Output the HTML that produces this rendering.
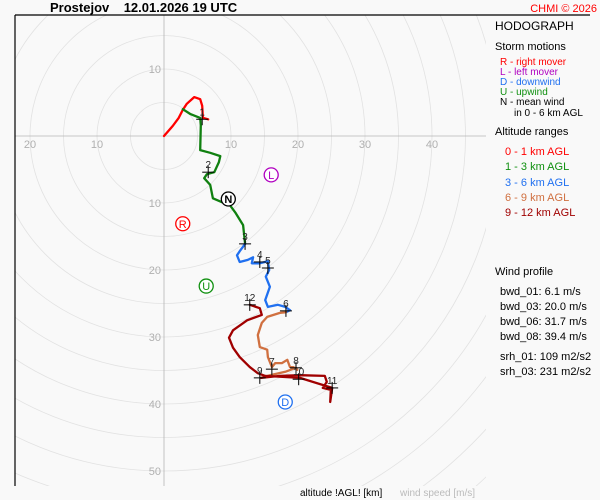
<!DOCTYPE html>
<html><head><meta charset="utf-8"><style>
html,body{margin:0;padding:0;background:#f9f9f9;width:600px;height:500px;overflow:hidden;}
svg{display:block;font-family:"Liberation Sans",sans-serif;}
</style></head><body>
<svg id="c" width="600" height="500" viewBox="0 0 600 500">
<rect x="0" y="0" width="600" height="500" fill="#f9f9f9"/>
<text x="50" y="12" font-size="13" font-weight="bold" fill="#000" xml:space="preserve">Prostejov    12.01.2026 19 UTC</text>
<text x="597" y="12" font-size="11" fill="#ff0000" text-anchor="end">CHMI © 2026</text>
<defs><clipPath id="clip"><rect x="15" y="15" width="471" height="471"/></clipPath></defs>
<g id="grid" clip-path="url(#clip)"></g>
<line x1="15" y1="15" x2="15" y2="486" stroke="#000" stroke-width="1.2"/>
<line x1="15" y1="15" x2="590" y2="15" stroke="#000" stroke-width="1.2"/>
<g id="ticks"></g>
<g id="series" clip-path="url(#clip)"></g>
<g id="marks"></g>
<g id="storms"></g>
<g font-size="11">
<text x="495" y="30" font-size="12" fill="#000">HODOGRAPH</text>
<text x="495" y="50" fill="#000">Storm motions</text>
<g font-size="10">
<text x="500" y="65" fill="#ff0000">R - right mover</text>
<text x="500" y="75" fill="#b000c0">L - left mover</text>
<text x="500" y="85" fill="#2070f0">D - downwind</text>
<text x="500" y="95" fill="#109010">U - upwind</text>
<text x="500" y="105" fill="#000">N - mean wind</text>
<text x="514" y="116" fill="#000">in 0 - 6 km AGL</text>
</g>
<text x="495" y="135" fill="#000">Altitude ranges</text>
<text x="505" y="155" fill="#ff0000">0 - 1 km AGL</text>
<text x="505" y="170" fill="#109010">1 - 3 km AGL</text>
<text x="505" y="186" fill="#2070f0">3 - 6 km AGL</text>
<text x="505" y="201" fill="#d07040">6 - 9 km AGL</text>
<text x="505" y="216" fill="#a00000">9 - 12 km AGL</text>
<text x="495" y="275" fill="#000">Wind profile</text>
<text x="500" y="295" fill="#000">bwd_01: 6.1 m/s</text>
<text x="500" y="310" fill="#000">bwd_03: 20.0 m/s</text>
<text x="500" y="325" fill="#000">bwd_06: 31.7 m/s</text>
<text x="500" y="340" fill="#000">bwd_08: 39.4 m/s</text>
<text x="500" y="360" fill="#000">srh_01: 109 m2/s2</text>
<text x="500" y="375" fill="#000">srh_03: 231 m2/s2</text>
</g>
<text x="300" y="496" font-size="10" fill="#000">altitude !AGL! [km]</text>
<text x="400" y="496" font-size="10" fill="#bbb">wind speed [m/s]</text>
</svg>
<script>
const seg01U=[0,1.3,2.2,2.8,3.4,4.5,5.4,5.7,5.8,6.6];
const seg01V=[0,1.5,2.7,3.9,4.8,5.8,5.5,4.5,2.7,2.5];
const seg13U=[2.8,3.9,5.4,5.5,5.4,6.9,8.4,8.2,7.5,6.4,6.0,6.9,7.3,8.7,9.6,10.7,11.8,12.1];
const seg13V=[4.0,3.3,2.7,1.6,-2.1,-2.5,-3.0,-3.9,-5.4,-5.7,-6.3,-7.3,-9.3,-9.9,-10.0,-11.5,-13.3,-16.1];
const seg36U=[12.1,11.3,10.9,11.3,12.5,13.3,13.1,14.3,15.5,15.7,15.2,15.8,15.1,15.5,17.0,18.1,18.8,18.2];
const seg36V=[-16.1,-17.2,-17.8,-18.8,-18.5,-18.1,-19.0,-19.0,-18.7,-20.0,-21.0,-22.5,-24.5,-25.5,-25.2,-25.5,-26.0,-26.3];
const seg69U=[18.2,17.3,15.4,14.6,14.0,14.3,15.4,15.5,16.1,16.6,17.6,18.4,18.8,19.3,19.9,19.7,18.1,15.8,14.5];
const seg69V=[-26.3,-26.4,-27.0,-27.9,-29.7,-31.5,-31.9,-33.0,-34.5,-33.9,-33.9,-33.4,-34.5,-34.5,-34.9,-34.6,-35.2,-35.7,-36.1];
const seg912U=[14.5,17.3,20.3,24.0,24.3,23.7,24.9,24.8,25.1,20.3,15.1,14.0,12.8,11.3,10.3,9.7,10.3,12.4,14.6,14.3,12.8];
const seg912V=[-36.1,-35.8,-35.7,-35.8,-36.7,-37.6,-37.9,-39.7,-37.6,-36.1,-35.8,-35.4,-34.5,-33.0,-31.6,-30.1,-29.0,-27.5,-26.7,-25.7,-25.2];
const markerLabels=["1","2","3","4","5","6","7","8","9","10","11","12"];
const markerU=[5.7,6.6,12.1,14.3,15.5,18.2,16.1,19.7,14.3,20.1,25.1,12.8];
const markerV=[2.5,-5.4,-16.1,-18.8,-19.7,-26.1,-34.8,-34.6,-36.1,-36.3,-37.6,-25.2];
const stormLabels=["R","L","D","U","N"];
const stormU=[2.8,16.0,18.1,6.3,9.6];
const stormV=[-13.1,-5.8,-39.7,-22.4,-9.4];
const tickValuesX=[-20,-10,10,20,30,40];
const tickValuesY=[10,-10,-20,-30,-40,-50];

const NS="http://www.w3.org/2000/svg";
const CX=164,CY=136,K=6.7;
function sx(u){return CX+u*K;}
function sy(v){return CY-v*K;}
function mk(tag,attrs,parent){const e=document.createElementNS(NS,tag);for(const k in attrs)e.setAttribute(k,attrs[k]);parent.appendChild(e);return e;}

const grid=document.getElementById('grid');
for(let r=5;r<=90;r+=5){
  const c=mk('circle',{cx:CX,cy:CY,r:r*K,fill:'none',stroke:'#e2e2e2','stroke-width':0.8},grid);
  
  
}
const ax=mk('line',{x1:15,y1:CY,x2:486,y2:CY,stroke:'#b4b4b4','stroke-width':0.8},grid);


const ay=mk('line',{x1:CX,y1:15,x2:CX,y2:486,stroke:'#b4b4b4','stroke-width':0.8},grid);



const ticks=document.getElementById('ticks');
tickValuesX.forEach(t=>{
  const e=mk('text',{x:sx(t),y:CY+12,'font-size':11,fill:'#b0b0b0','text-anchor':'middle'},ticks);
  e.textContent=String(Math.abs(t));
  
  
});
tickValuesY.forEach(t=>{
  const e=mk('text',{x:CX-3,y:sy(t)+4,'font-size':11,fill:'#b0b0b0','text-anchor':'end'},ticks);
  e.textContent=String(Math.abs(t));
  
  
});

const series=document.getElementById('series');
function drawSeg(U,V,color,name){
  const d=U.map((u,i)=>(i?'L':'M')+sx(u).toFixed(1)+','+sy(V[i]).toFixed(1)).join(' ');
  const p=mk('path',{d:d,fill:'none',stroke:color,'stroke-width':2.3,'stroke-linejoin':'round','stroke-linecap':'round'},series);
  
  
}
drawSeg(seg01U,seg01V,'#ff0000','hodograph-0-1km');
drawSeg(seg13U,seg13V,'#108010','hodograph-1-3km');
drawSeg(seg36U,seg36V,'#2070f0','hodograph-3-6km');
drawSeg(seg69U,seg69V,'#d07040','hodograph-6-9km');
drawSeg(seg912U,seg912V,'#a00000','hodograph-9-12km');

const marks=document.getElementById('marks');
markerLabels.forEach((lab,i)=>{
  const x=sx(markerU[i]),y=sy(markerV[i]);
  const g=mk('g',{},marks);
  
  
  mk('line',{x1:x-6,y1:y,x2:x+6,y2:y,stroke:'#000','stroke-width':1},g);
  mk('line',{x1:x,y1:y-6,x2:x,y2:y+6,stroke:'#000','stroke-width':1},g);
  const t=mk('text',{x:x,y:y-4,'font-size':10,fill:'#222','text-anchor':'middle'},g);
  t.textContent=lab;
});

const storms=document.getElementById('storms');
const stormColors=['#ff0000','#b000c0','#2070f0','#109010','#000'];
stormLabels.forEach((lab,i)=>{
  const x=sx(stormU[i]),y=sy(stormV[i]);
  const g=mk('g',{},storms);
  
  
  mk('circle',{cx:x,cy:y,r:7,fill:'#fff',stroke:stormColors[i],'stroke-width':1.3},g);
  const t=mk('text',{x:x,y:y+4,'font-size':11,fill:stormColors[i],'text-anchor':'middle','font-weight':lab==='N'?'bold':'normal'},g);
  t.textContent=lab;
});
</script>
</body></html>
